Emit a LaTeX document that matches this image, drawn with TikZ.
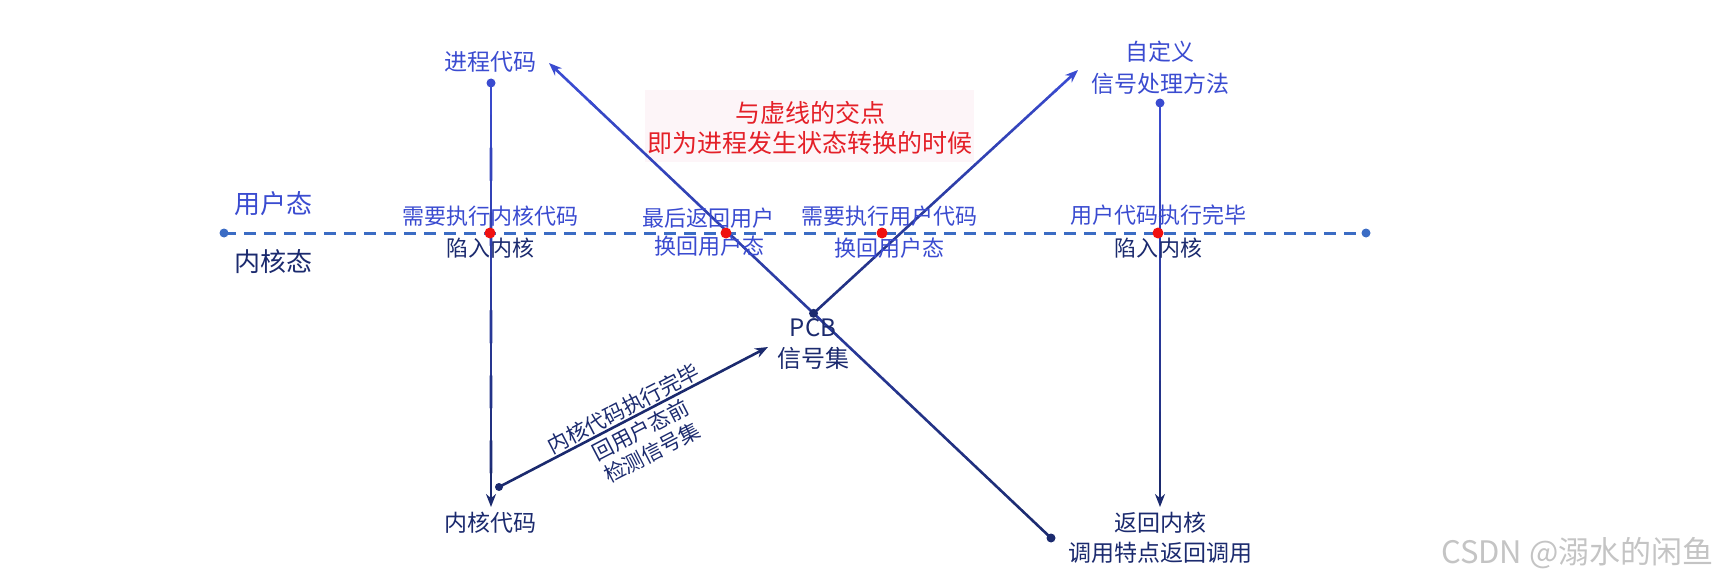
\documentclass[tikz,border=0pt]{standalone}
\usepackage{fontspec}
\setmainfont{Noto Sans CJK SC}
\usetikzlibrary{arrows.meta,calc}
\definecolor{ublue}{HTML}{3A4BD0}
\definecolor{navy}{HTML}{1B2A6E}
\definecolor{dashblue}{HTML}{3B6CC4}
\definecolor{reddot}{HTML}{F01010}
\definecolor{redtext}{HTML}{E42028}
\definecolor{pinkbg}{HTML}{FDF5F8}
\definecolor{wmgray}{HTML}{C4C4C4}
\tikzset{
  conn/.style={line width=1.3pt, line cap=round},
  tipstyle/.style={-{Stealth[length=6.5pt,width=5pt]}},
  enddot/.style={circle, inner sep=0pt, minimum size=4.5pt},
  reddotstyle/.style={circle, fill=reddot, inner sep=0pt, minimum size=5.5pt},
  txt/.style={inner sep=0pt, align=center},
}
% gradient connector: from #1 to #2, percentage of ublue at #1 and #2, arrow spec #5
\newcommand\gradline[5]{%
  \foreach \i in {0,...,11}{%
    \pgfmathsetmacro\ta{0.92*\i/12}%
    \pgfmathsetmacro\tb{0.92*(\i+1)/12}%
    \pgfmathtruncatemacro\pc{#3+(#4-#3)*0.92*(\i+0.5)/12}%
    \draw[conn, draw=ublue!\pc!navy] ($(#1)!\ta!(#2)$) -- ($(#1)!\tb!(#2)$);
  }%
  \draw[conn, #5, draw=ublue!#4!navy] ($(#1)!0.91!(#2)$) -- (#2);
}
\begin{document}
\begin{tikzpicture}[x=0.5pt,y=-0.5pt]
\useasboundingbox (0,0) rectangle (1720,583);

% pink highlight box with red text
\fill[pinkbg] (645,90) rectangle (974,162);
\node[txt, text=redtext, font=\fontsize{12.5pt}{15pt}\selectfont] (note1) at (810,113) {与虚线的交点};
\node[txt, text=redtext, font=\fontsize{12.5pt}{15pt}\selectfont] (note2) at (810,143) {即为进程发生状态转换的时候};

% key coordinates
\coordinate (lt) at (491,83);
\coordinate (lb) at (491,507);
\coordinate (rt) at (1160,103);
\coordinate (rb) at (1160,507);
\coordinate (bdot) at (1051,538);
\coordinate (tla) at (549,63);
\coordinate (pcb) at ($(bdot)!0.473!(tla)$);
\coordinate (tra) at (1078,70);
\coordinate (kdot) at (499,487);
\coordinate (kpcb) at (768,347);
\coordinate (dl) at (224,233);
\coordinate (dr) at (1366,233);

% connectors
\gradline{lt}{lb}{100}{0}{tipstyle}
\gradline{rt}{rb}{100}{0}{tipstyle}
\gradline{bdot}{tla}{0}{100}{tipstyle}
\gradline{pcb}{tra}{15}{100}{tipstyle}
\draw[conn, tipstyle, draw=navy] (kdot) -- (kpcb)
  node[pos=0.483, sloped, above=0.5pt, inner sep=0pt, text=navy, font=\fontsize{10.5pt}{12.5pt}\selectfont] (ktext1) {内核代码执行完毕}
  node[pos=0.50, sloped, below=2pt, inner sep=0pt, align=center, text=navy, font=\fontsize{10.5pt}{12.5pt}\selectfont] (ktext2) {回用户态前\\检测信号集};

% dashed state boundary
\draw[dashblue, line width=1.5pt, dash pattern=on 6pt off 4pt] (dl) -- (dr);
\node[enddot, fill=dashblue] (dld) at (dl) {};
\node[enddot, fill=dashblue] (drd) at (dr) {};

% end dots
\node[enddot, fill=ublue] (ltd) at (lt) {};
\node[enddot, fill=ublue] (rtd) at (rt) {};
\node[enddot, fill=navy] (pcbd) at (pcb) {};
\node[enddot, fill=navy] (bdotd) at (bdot) {};
\node[enddot, fill=navy, minimum size=4pt] (kdotd) at (kdot) {};

% red intersection dots
\node[reddotstyle] (x1) at (490,233) {};
\node[reddotstyle] (x2) at (726,233) {};
\node[reddotstyle] (x3) at (882,233) {};
\node[reddotstyle] (x4) at (1158,233) {};

% texts
\node[txt, text=ublue, font=\fontsize{11.5pt}{14pt}\selectfont] (proc) at (490,62) {进程代码};
\node[txt, text=ublue, font=\fontsize{11.5pt}{16pt}\selectfont] (custom) at (1160,68) {自定义\\信号处理方法};
\node[txt, text=ublue, font=\fontsize{13pt}{15pt}\selectfont] (user) at (273,204) {用户态};
\node[txt, text=navy, font=\fontsize{13pt}{15pt}\selectfont] (kern) at (273,262) {内核态};

\node[txt, text=ublue, font=\fontsize{11pt}{13pt}\selectfont] (a1) at (490,216) {需要执行内核代码};
\node[txt, text=ublue, font=\fontsize{11pt}{13pt}\selectfont] (a2) at (708,218) {最后返回用户};
\node[txt, text=ublue, font=\fontsize{11pt}{13pt}\selectfont] (a3) at (889,216) {需要执行用户代码};
\node[txt, text=ublue, font=\fontsize{11pt}{13pt}\selectfont] (a4) at (1158,215) {用户代码执行完毕};

\node[txt, text=navy, font=\fontsize{11pt}{13pt}\selectfont] (b1) at (490,248) {陷入内核};
\node[txt, text=ublue, font=\fontsize{11pt}{13pt}\selectfont] (b2) at (709,246) {换回用户态};
\node[txt, text=ublue, font=\fontsize{11pt}{13pt}\selectfont] (b3) at (889,248) {换回用户态};
\node[txt, text=navy, font=\fontsize{11pt}{13pt}\selectfont] (b4) at (1158,248) {陷入内核};

\node[txt, text=navy, font=\fontsize{12pt}{15.5pt}\selectfont] (pcbt) at (813,344) {PCB\\信号集};
\node[txt, text=navy, font=\fontsize{11.5pt}{14pt}\selectfont] (kcode) at (490,523) {内核代码};
\node[txt, text=navy, font=\fontsize{11.5pt}{15pt}\selectfont] (ret) at (1160,538) {返回内核\\调用特点返回调用};

% watermark
\node[txt, text=wmgray, font=\fontsize{15.5pt}{18pt}\selectfont, anchor=east] (wm) at (1714,553) {CSDN @溺水的闲鱼};
\end{tikzpicture}
\end{document}
